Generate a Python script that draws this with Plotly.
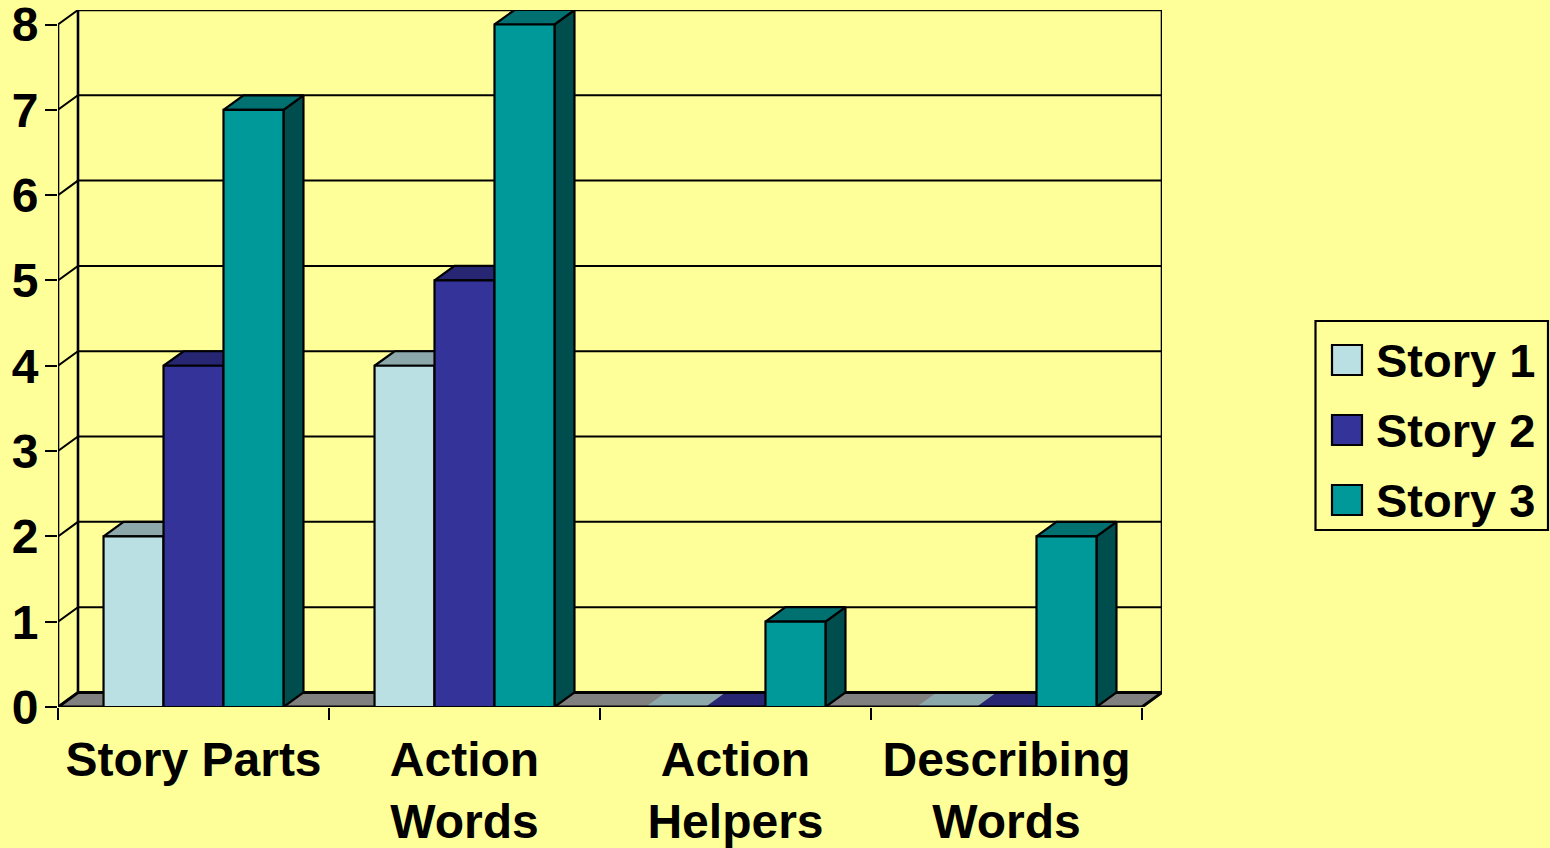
import plotly.graph_objects as go

categories = ["Story Parts", "Action<br>Words", "Action<br>Helpers", "Describing<br>Words"]
series_names = ["Story 1", "Story 2", "Story 3"]
story_1 = [2, 4, 0, 0]
story_2 = [4, 5, 0, 0]
story_3 = [7, 8, 1, 2]
y_ticks = [0, 1, 2, 3, 4, 5, 6, 7, 8]

series_values = [story_1, story_2, story_3]
front_colors = ["#BBE0E3", "#333399", "#009999"]
top_colors = ["#8CA8AA", "#262673", "#007070"]
side_colors = ["#8CA8AA", "#262673", "#004D4D"]
BG = "#FFFF99"
FONT = "Liberation Sans"

W, H = 1550, 848
L, R, T, B = 58, 1162, 10, 707
DX = 20 / 271.0          # depth in category units
DY = 14.5 / 85.3         # depth in value units
GAP = 0.336
BW = (1 - GAP) / 3
X_RANGE = [-0.5, 3.5 + DX]
Y_RANGE = [0, 8 + DY]
xs = list(range(len(categories)))


def poly_trace(xv, yv, fill, lw=2.2):
    return go.Scatter(x=xv, y=yv, mode="lines", fill="toself", fillcolor=fill,
                      line=dict(color="black", width=lw), cliponaxis=False,
                      hoverinfo="skip", showlegend=False, xaxis="x", yaxis="y")


def line_trace(xv, yv, lw=2.6):
    return go.Scatter(x=xv, y=yv, mode="lines", line=dict(color="black", width=lw),
                      cliponaxis=False, hoverinfo="skip", showlegend=False,
                      xaxis="x", yaxis="y")


fig = go.Figure()

# wall lines
x0, x1 = X_RANGE[0], 3.5
gx, gy = [], []
for v in y_ticks:
    gx += [x0, x0 + DX, x1 + DX, None]
    gy += [v, v + DY, v + DY, None]
fig.add_trace(line_trace(gx, gy, 2))
top = y_ticks[-1]
fig.add_trace(line_trace([x0, x0, None, x0 + DX, x0 + DX, x1 + DX, x1 + DX],
                         [0, top, None, DY, top + DY, top + DY, DY], 2.6))

# floor
fig.add_trace(go.Scatter(x=[x0, x0 + DX, x1 + DX, x1, x0], y=[0, DY, DY, 0, 0], mode="lines",
                         fill="toself", fillcolor="#808080", line=dict(width=0),
                         cliponaxis=False, hoverinfo="skip", showlegend=False, xaxis="x", yaxis="y"))


def left_edge(cat, idx):
    return cat - (1 - GAP) / 2 + idx * BW


# empty bars lying on the floor
for i, vals in enumerate(series_values):
    zx, zy = [], []
    for c, v in zip(xs, vals):
        if v == 0:
            a = left_edge(c, i)
            zx += [a, a + DX, a + BW + DX, a + BW, a, None]
            zy += [0, DY, DY, 0, 0, None]
    if zx:
        fig.add_trace(go.Scatter(x=zx, y=zy, mode="lines", fill="toself", fillcolor=top_colors[i],
                                 line=dict(width=0), cliponaxis=False, hoverinfo="skip",
                                 showlegend=False, xaxis="x", yaxis="y"))

# floor outline
fig.add_trace(line_trace([x0, x0 + DX, x1 + DX, x1, x0], [0, DY, DY, 0, 0], 3))

# side and top faces of the bars
for i, vals in enumerate(series_values):
    sx, sy, tx, ty = [], [], [], []
    for c, v in zip(xs, vals):
        if v > 0:
            a = left_edge(c, i)
            b = a + BW
            sx += [b, b + DX, b + DX, b, b, None]
            sy += [0, DY, v + DY, v, 0, None]
            tx += [a, a + DX, b + DX, b, a, None]
            ty += [v, v + DY, v + DY, v, v, None]
    fig.add_trace(poly_trace(sx, sy, side_colors[i]))
    fig.add_trace(poly_trace(tx, ty, top_colors[i]))

# front faces: real bars on an overlaid subplot so they hide what is behind them
for i, vals in enumerate(series_values):
    fig.add_trace(go.Bar(x=xs, y=vals, name=series_names[i], marker=dict(
        color=front_colors[i], line=dict(color="black", width=2.2)),
        cliponaxis=False, xaxis="x2", yaxis="y2", showlegend=False))

tick_font = dict(family=FONT, size=48, color="black", weight=700)

shapes = []
annotations = []


def px(x):
    return (x - L) / (R - L)


def py(y):
    return (B - y) / (B - T)


shapes.append(dict(type="rect", xref="paper", yref="paper", x0=px(1315.5), x1=px(1548),
                   y0=py(530), y1=py(321), line=dict(color="black", width=2.2), fillcolor=BG))
for i, name in enumerate(series_names):
    yc = 360 + 70 * i
    shapes.append(dict(type="rect", xref="paper", yref="paper", x0=px(1332), x1=px(1362),
                       y0=py(yc + 15), y1=py(yc - 15), line=dict(color="black", width=2.2),
                       fillcolor=front_colors[i]))
    annotations.append(dict(text=name, xref="paper", yref="paper", x=px(1375), y=py(yc),
                            xanchor="left", yanchor="middle", showarrow=False, borderpad=0,
                            font=dict(family=FONT, size=47, color="black", weight=700)))

fig.update_layout(
    width=W, height=H, autosize=False,
    margin=dict(l=L, r=W - R, t=T, b=H - B, pad=0),
    paper_bgcolor=BG, plot_bgcolor=BG,
    barmode="group", bargap=GAP, bargroupgap=0,
    showlegend=False,
    shapes=shapes, annotations=annotations,
    xaxis=dict(range=X_RANGE, tickmode="array", tickvals=[c - 0.5 for c in xs] + [xs[-1] + 0.5],
               ticktext=[""] * 5, ticks="outside", ticklen=12, tickwidth=2.2, tickcolor="black",
               automargin=False,
               showgrid=False, zeroline=False, showline=False, fixedrange=True),
    yaxis=dict(range=Y_RANGE, tickmode="array", tickvals=y_ticks, ticktext=[str(v) for v in y_ticks],
               ticks="outside", ticklen=12, tickwidth=2.2, tickcolor="black", tickfont=tick_font,
               ticklabeloverflow="allow", ticklabelstandoff=-3, automargin=False,
               showgrid=False, zeroline=False, showline=False, fixedrange=True),
    xaxis2=dict(range=X_RANGE, overlaying="x", anchor="y2", tickmode="array", tickvals=xs,
                ticktext=categories, ticks="", tickfont=tick_font, ticklabelstandoff=20, tickangle=0,
                ticklabeloverflow="allow", automargin=False,
                showgrid=False, zeroline=False, showline=False, fixedrange=True),
    yaxis2=dict(range=Y_RANGE, overlaying="y", anchor="x2", showticklabels=False, ticks="",
                automargin=False,
                showgrid=False, zeroline=False, showline=False, fixedrange=True),
)

fig.write_html("out.html", config={"displayModeBar": False},
               post_script="document.body.style.margin='0';document.documentElement.style.background='#FFFF99';")
